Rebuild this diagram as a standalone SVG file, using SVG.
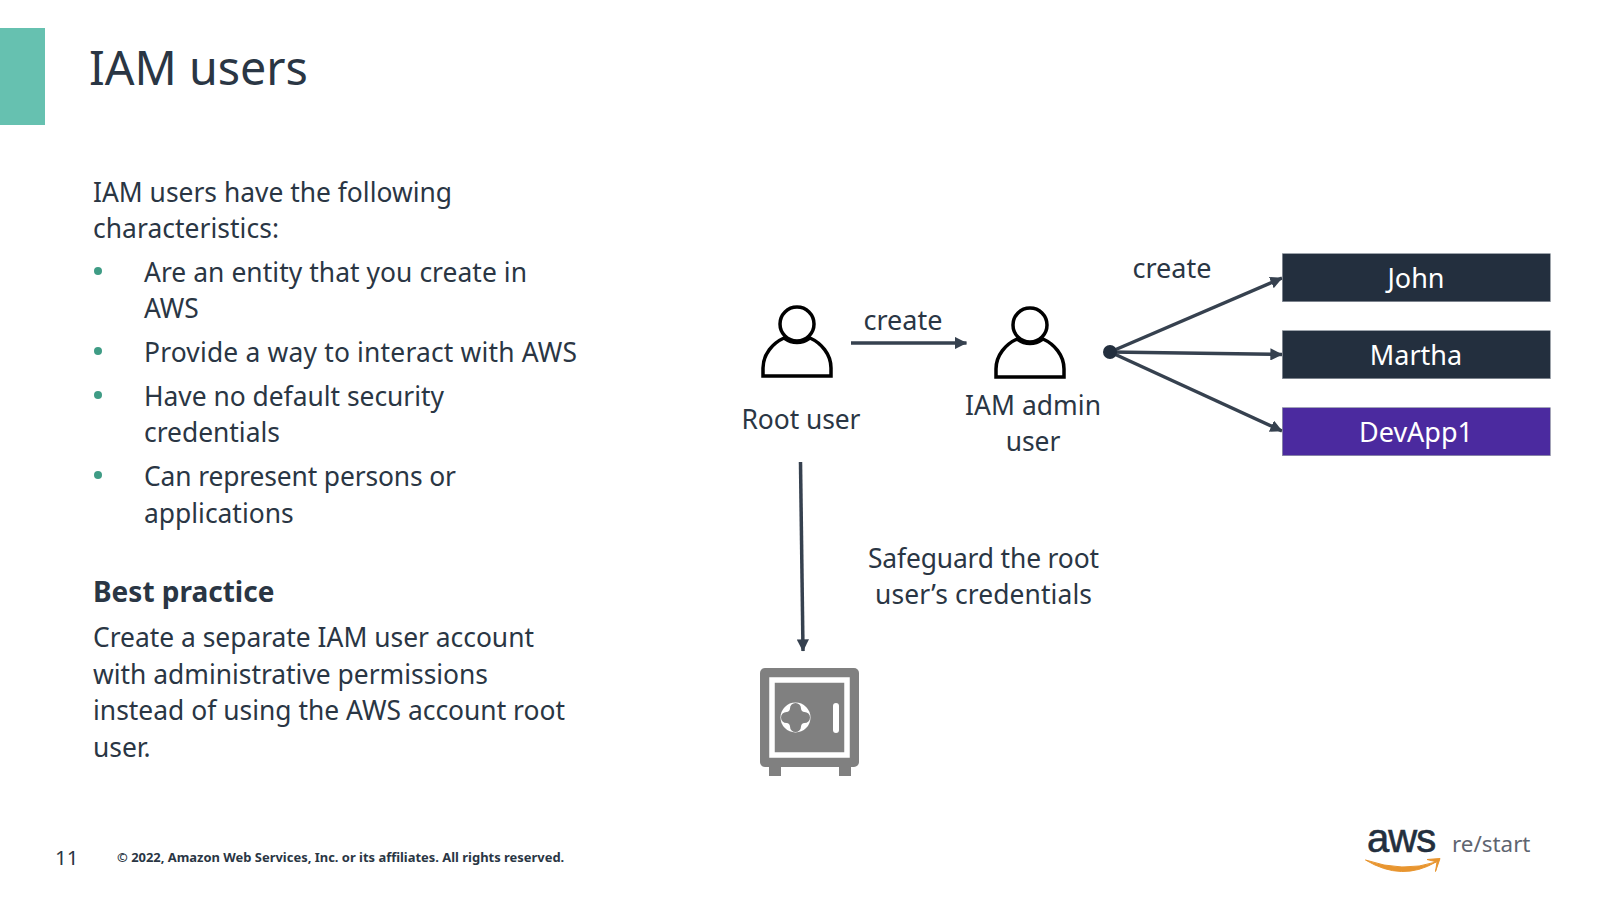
<svg xmlns="http://www.w3.org/2000/svg" width="1612" height="901" viewBox="0 0 1612 901">
<style>
text{font-family:"Noto Sans","Open Sans","Liberation Sans",sans-serif;fill:#2a3644}
.b{font-size:26.4px}
.m{text-anchor:middle}
.w{fill:#fff;font-size:27px;text-anchor:middle}
.d{fill:#3f9c85}
.u{fill:none;stroke:#000;stroke-width:3.5}
.c{fill:none;stroke:#36414f;stroke-width:3.5}
.n{stroke:#8a929c;stroke-width:.6}
</style>
<defs>
<marker id="a" viewBox="0 0 10 10" refX="9.5" refY="5" markerWidth="3.500" markerHeight="3.500" orient="auto"><path d="M0 0L10 5L0 10Z" fill="#36414f"/></marker>
<g id="person"><path d="M-34 52V44C-34 30 -24 19 -13 14Q0 23 13 14C24 19 34 30 34 44V52Z" class="u"/><circle cx="0" cy="0" r="17" class="u"/></g>
</defs>
<rect x="0" y="28" width="45" height="97" fill="#66c1b0"/>
<text x="89" y="85" font-size="46.600">IAM users</text>
<g id="body">
<text class="b" x="93" y="201.500" textLength="359">IAM users have the following</text>
<text class="b" x="93" y="237.500" textLength="186">characteristics:</text>
<circle class="d" cx="98" cy="271" r="4"/>
<text class="b" x="144" y="281.500" textLength="383">Are an entity that you create in</text>
<text class="b" x="144" y="318">AWS</text>
<circle class="d" cx="98" cy="351" r="4"/>
<text class="b" x="144" y="361.500" textLength="433">Provide a way to interact with AWS</text>
<circle class="d" cx="98" cy="395" r="4"/>
<text class="b" x="144" y="405.500" textLength="300">Have no default security</text>
<text class="b" x="144" y="441.500">credentials</text>
<circle class="d" cx="98" cy="475" r="4"/>
<text class="b" x="144" y="485.500" textLength="312">Can represent persons or</text>
<text class="b" x="144" y="522.500">applications</text>
<text x="93" y="602" font-size="28" font-weight="700">Best practice</text>
<text class="b" x="93" y="646.500" textLength="441">Create a separate IAM user account</text>
<text class="b" x="93" y="683.500" textLength="395">with administrative permissions</text>
<text class="b" x="93" y="719.500" textLength="472">instead of using the AWS account root</text>
<text class="b" x="93" y="756.500">user.</text>
</g>
<g id="connectors">
<path class="c" marker-end="url(#a)" d="M851 343H966.500"/>
<path class="c" marker-end="url(#a)" d="M1110 352L1282 278"/>
<path class="c" marker-end="url(#a)" d="M1110 352L1282 354.500"/>
<path class="c" marker-end="url(#a)" d="M1110 352L1282 431"/>
<path class="c" marker-end="url(#a)" d="M800.500 462L803 651"/>
<circle cx="1110" cy="352" r="7" fill="#232f3e"/>
</g>
<g id="labels">
<text class="m" font-size="27" x="903" y="330">create</text>
<text class="m" font-size="27" x="1172" y="278">create</text>
<text class="b m" x="983.500" y="567.500" textLength="231">Safeguard the root</text>
<text class="b m" x="983.500" y="604" textLength="217">user’s credentials</text>
</g>
<g id="root-user"><use href="#person" x="797" y="324"/><text class="b m" x="801" y="428.500" textLength="119">Root user</text></g>
<g id="iam-admin"><use href="#person" x="1030" y="325"/><text class="b m" x="1033" y="415" textLength="136">IAM admin</text><text class="b m" x="1033" y="450.500">user</text></g>
<g id="john"><rect class="n" x="1282.300" y="253.700" width="268" height="48" fill="#232f3e"/><text class="w" x="1416" y="288">John</text></g>
<g id="martha"><rect class="n" x="1282.300" y="330.700" width="268" height="48" fill="#232f3e"/><text class="w" x="1416" y="365">Martha</text></g>
<g id="devapp"><rect class="n" x="1282.300" y="407.700" width="268" height="48" fill="#4b2a9f"/><text class="w" x="1416" y="442">DevApp1</text></g>
<g id="safe">
<rect x="760" y="668" width="99" height="99" rx="5" fill="#808080"/>
<rect x="772" y="680" width="75" height="75" fill="none" stroke="#fff" stroke-width="5.500"/>
<circle cx="795.500" cy="717.500" r="15" fill="#fff"/>
<path d="M790 708.500a5.500 5.500 0 0 1 11 0a4 4 0 0 0 3.500 3.500a5.500 5.500 0 0 1 0 11a4 4 0 0 0 -3.500 3.500a5.500 5.500 0 0 1 -11 0a4 4 0 0 0 -3.500 -3.500a5.500 5.500 0 0 1 0 -11a4 4 0 0 0 3.500 -3.500Z" fill="#808080"/>
<rect x="833" y="703" width="6" height="30" rx="3" fill="#fff"/>
<rect x="769" y="767" width="12" height="9" fill="#808080"/>
<rect x="839" y="767" width="12" height="9" fill="#808080"/>
</g>
<g id="footer">
<text x="55" y="865" font-size="20.500">11</text>
<text x="117" y="862" font-size="12.950" font-weight="700">© 2022, Amazon Web Services, Inc. or its affiliates. All rights reserved.</text>
<text x="1367" y="852" font-size="40" style="fill:#232f3e;stroke:#232f3e;stroke-width:.6;font-family:'Liberation Sans',sans-serif;letter-spacing:-1px">aws</text>
<path d="M1365.500 860Q1402 882 1436 862Q1403 873 1365.500 860Z" fill="#e8952f" stroke="#e8952f" stroke-width="1"/>
<path d="M1427 859.500L1440 858.500L1435.500 871.500L1437 862Z" fill="#e8952f" stroke="#e8952f" stroke-width="1"/>
<text x="1452" y="852" font-size="22.400" style="fill:#5f6570">re/start</text>
</g>
</svg>
